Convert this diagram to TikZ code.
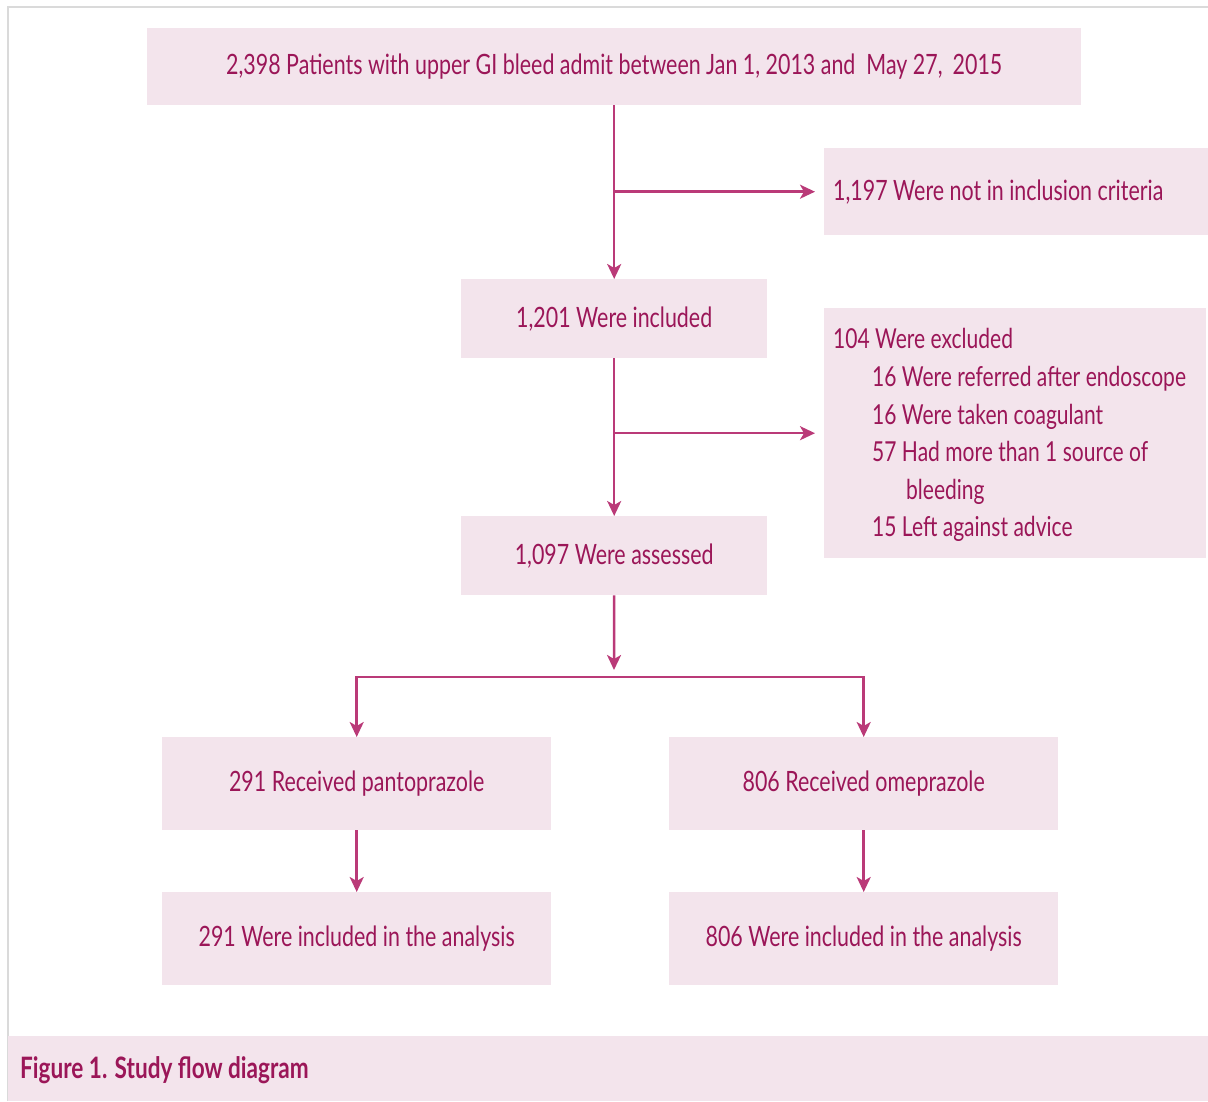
\documentclass[tikz,border=0pt]{standalone}
\usepackage{fontspec}
\setmainfont{Lato}[FakeStretch=0.765]
\usetikzlibrary{arrows.meta}
\definecolor{boxfill}{RGB}{243,228,236}
\definecolor{linec}{RGB}{186,58,120}
\definecolor{txt}{RGB}{155,22,88}
\definecolor{framec}{RGB}{218,218,218}
\begin{document}
\begin{tikzpicture}[x=1pt,y=-1pt,
  box/.style={fill=boxfill, draw=none, text=txt, font=\fontsize{28}{37.6}\selectfont, inner sep=0pt, anchor=north west},
  ltext/.style={text=txt, font=\fontsize{28}{37.6}\selectfont, inner sep=0pt, align=left, anchor=west},
  conn/.style={draw=linec, line width=2.5pt},
  arr/.style={conn, -{Stealth[length=15pt,width=14pt,inset=4pt]}}]
\useasboundingbox (0,0) rectangle (1208,1101);
\draw[framec, line width=2pt] (8,1101) -- (8,7) -- (1208,7);
% boxes
\node[box, minimum width=934pt, minimum height=77pt] (top) at (147,28) {2,398 Patients with upper GI bleed admit between Jan 1, 2013 and\ \ May 27,\hspace{10pt}2015};
\node[box, minimum width=384pt, minimum height=87pt] (nic) at (824,148) {};
\node[ltext] (nictext) at ([xshift=9pt]nic.west) {1,197 Were not in inclusion criteria};
\node[box, minimum width=306pt, minimum height=79pt] (inc) at (461,279) {1,201 Were included};
\node[box, minimum width=382pt, minimum height=250pt] (exc) at (824,308) {};
\node[ltext, font=\fontsize{27.5}{37.6}\selectfont] (exctext) at ([xshift=9pt,yshift=-2pt]exc.west) {104 Were excluded\\
\hspace*{39pt}16 Were referred after endoscope\\
\hspace*{39pt}16 Were taken coagulant\\
\hspace*{39pt}57 Had more than 1 source of\\
\hspace*{73pt}bleeding\\
\hspace*{39pt}15 Left against advice};
\node[box, minimum width=306pt, minimum height=79pt] (ass) at (461,516) {1,097 Were assessed};
\node[box, minimum width=389pt, minimum height=93pt] (pan) at (162,737) {291 Received pantoprazole};
\node[box, minimum width=389pt, minimum height=93pt] (ome) at (669,737) {806 Received omeprazole};
\node[box, minimum width=389pt, minimum height=93pt] (anl) at (162,892) {291 Were included in the analysis};
\node[box, minimum width=389pt, minimum height=93pt] (anr) at (669,892) {806 Were included in the analysis};
% caption
\node[box, minimum width=1200pt, minimum height=65pt] (cap) at (8,1036) {};
\node[ltext, font=\fontsize{29.5}{30}\selectfont\bfseries] (captext) at ([xshift=12pt,yshift=-1pt]cap.west) {Figure 1. Study flow diagram};
% connectors
\draw[arr] (top.south) -- (inc.north);
\draw[arr] (top.south |- nic.west) -- ([xshift=-9pt]nic.west);
\draw[arr] (inc.south) -- (ass.north);
\draw[arr] (inc.south |- exc.west) -- ([xshift=-9pt]exc.west);
\coordinate (split) at (614,677);
\draw[arr] (ass.south) -- ([yshift=7pt]split);
\draw[arr] (split) -| (pan.north);
\draw[arr] (split) -| (ome.north);
\draw[arr] (pan.south) -- (anl.north);
\draw[arr] (ome.south) -- (anr.north);
\end{tikzpicture}
\end{document}
